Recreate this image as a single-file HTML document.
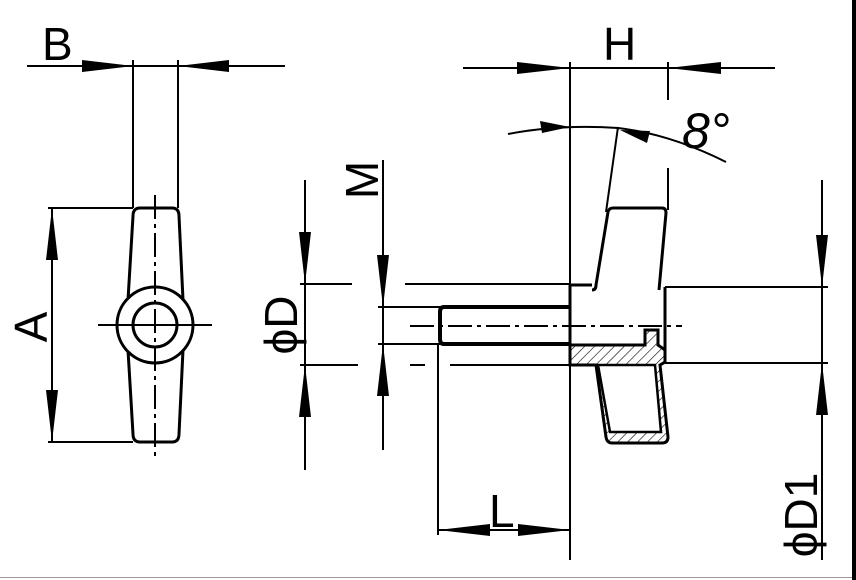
<!DOCTYPE html>
<html><head><meta charset="utf-8"><style>
html,body{margin:0;padding:0;background:#fff}
svg{display:block}
text{font-family:"Liberation Sans",sans-serif;font-size:46px;fill:#000}
</style></head><body>
<svg width="856" height="580" viewBox="0 0 856 580" xmlns="http://www.w3.org/2000/svg">
<defs>
<pattern id="h" width="7" height="7" patternUnits="userSpaceOnUse" patternTransform="rotate(45)">
<line x1="0" y1="0" x2="0" y2="7" stroke="#000" stroke-width="1.2"/>
</pattern>
</defs>
<rect x="852" y="0" width="4" height="580" fill="#000"/>
<line x1="0" y1="577.5" x2="852" y2="577.5" stroke="#999" stroke-width="1"/>
<g stroke="#000" stroke-width="2" fill="none">
<line x1="27" y1="66" x2="285" y2="66"/>
<line x1="133" y1="60" x2="133" y2="208"/>
<line x1="178" y1="60" x2="178" y2="208"/>
<line x1="48" y1="208" x2="133" y2="208"/>
<line x1="48" y1="442" x2="133" y2="442"/>
<line x1="52" y1="208" x2="52" y2="442"/>
<path d="M140 208 H172 Q179 208 179 216 L183 300 M128 300 L133 216 Q133 208 140 208" stroke-width="3"/>
<path d="M128 350 L133 434 Q133 442 140 442 H172 Q179 442 179 434 L183 350" stroke-width="3"/>
<circle cx="155" cy="325" r="38" stroke-width="3" fill="#fff"/>
<circle cx="155" cy="325" r="22" stroke-width="3"/>
<line x1="98" y1="325" x2="212" y2="325"/>
<line x1="155" y1="195" x2="155" y2="460" stroke-dasharray="24,5,4,5"/>
<line x1="463" y1="68" x2="775" y2="68"/>
<line x1="570" y1="62" x2="570" y2="560"/>
<line x1="668" y1="62" x2="668" y2="100"/>
<line x1="668" y1="168" x2="668" y2="210"/>
<path d="M508 134 Q560 124 618 128 Q670 134 726 162"/>
<line x1="618" y1="127" x2="606" y2="212"/>
<line x1="305" y1="180" x2="305" y2="470"/>
<line x1="300" y1="284" x2="352" y2="284"/>
<line x1="405" y1="284" x2="570" y2="284"/>
<line x1="300" y1="365" x2="358" y2="365"/>
<line x1="410" y1="365" x2="425" y2="365"/>
<line x1="450" y1="365" x2="570" y2="365"/>
<line x1="383" y1="160" x2="383" y2="450"/>
<line x1="378" y1="307" x2="440" y2="307"/>
<line x1="378" y1="344" x2="440" y2="344"/>
<line x1="822" y1="180" x2="822" y2="560"/>
<line x1="665" y1="287" x2="828" y2="287"/>
<line x1="665" y1="363" x2="828" y2="363"/>
<line x1="438" y1="345" x2="438" y2="535"/>
<line x1="438" y1="530" x2="570" y2="530"/>
<path d="M570 307 H444 Q440 307 440 312 V339 Q440 344 444 344 H570" stroke-width="4"/>
<path d="M570 285 H592 M570 285 V363 M665 287 V363" stroke-width="3"/>
<path d="M592 290 Q596 290 596 285 L608 212 Q609 208 613 208 H662 Q666 208 666 213 L659 290" stroke-width="3"/>
<path d="M570 345 H645 V330 H658 V345 L665 350 V362 L660 365 L668 437 Q668 443 662 443 H612 Q607 443 606 437 L596 365 H570 Z" fill="url(#h)" stroke-width="3"/>
<path d="M598 365 H655 L661 432 H610 Z" fill="#fff" stroke-width="2.5"/>
<line x1="410" y1="326" x2="682" y2="326" stroke-dasharray="24,5,4,5"/>
</g>
<g fill="#000">
<polygon points="133,66 82,60 82,72"/>
<polygon points="178,66 229,60 229,72"/>
<polygon points="52,208 46,260 58,260"/>
<polygon points="52,442 46,390 58,390"/>
<polygon points="570,68 517,62 517,74"/>
<polygon points="668,68 721,62 721,74"/>
<polygon points="570,127 540,121 542,133"/>
<polygon points="620,130 650,131 647,143"/>
<polygon points="305,284 299,232 311,232"/>
<polygon points="305,365 299,417 311,417"/>
<polygon points="383,307 377,255 389,255"/>
<polygon points="383,344 377,396 389,396"/>
<polygon points="822,287 816,235 828,235"/>
<polygon points="822,363 816,415 828,415"/>
<polygon points="438,530 490,524 490,536"/>
<polygon points="570,530 518,524 518,536"/>
</g>
<text x="42" y="60">B</text>
<text x="603" y="60">H</text>
<text x="489" y="527">L</text>
<text x="682" y="148" style="font-size:50px;font-style:italic">8°</text>
<text transform="translate(47,327) rotate(-90)" text-anchor="middle">A</text>
<text transform="translate(378,180) rotate(-90)" text-anchor="middle">M</text>
<text transform="translate(297,325) rotate(-90)" text-anchor="middle">ϕD</text>
<text transform="translate(817,515) rotate(-90)" text-anchor="middle">ϕD1</text>
</svg>
</body></html>
